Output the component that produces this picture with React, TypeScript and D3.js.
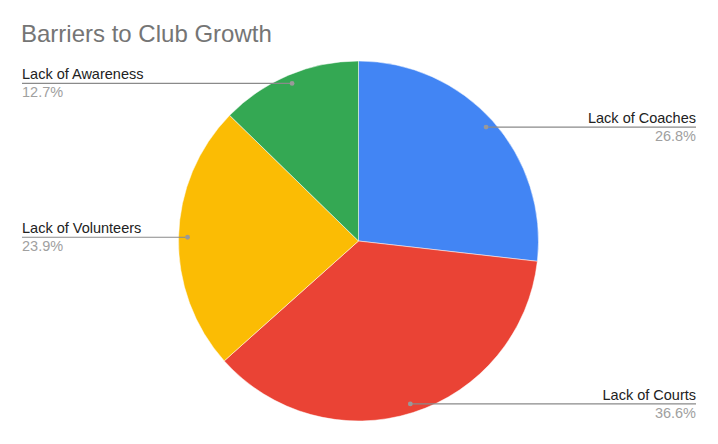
import React from "react";
import * as d3 from "d3";

const categories = ["Lack of Coaches", "Lack of Courts", "Lack of Volunteers", "Lack of Awareness"];
const values = [26.8, 36.6, 23.9, 12.7];
const colors = ["#4285F4", "#EA4335", "#FBBC04", "#34A853"];
const title = "Barriers to Club Growth";

const W = 718;
const H = 444;
const cx = 358.5;
const cy = 241;
const R = 180;

export default function App() {
  const pie = d3.pie<number>().sort(null).value((d) => d)(values);
  const arc = d3.arc<d3.PieArcDatum<number>>().innerRadius(0).outerRadius(R);
  const total = d3.sum(values);
  const fmt = (v: number) => ((v / total) * 100).toFixed(1) + "%";
  const font = "'Liberation Sans', Arial, sans-serif";

  return (
    <svg width={W} height={H} style={{ position: "absolute", left: 0, top: 0, background: "#fff" }} fontFamily={font}>
      <rect width={W} height={H} fill="#fff" />
      <text x={21} y={42} fontSize={24} fill="#757575">{title}</text>
      <g transform={`translate(${cx},${cy})`}>
        {pie.map((p, i) => (
          <path key={i} d={arc(p) || ""} fill={colors[i]} stroke="#fff" strokeWidth={0.5} />
        ))}
      </g>
      {pie.map((p, i) => {
        const mid = (p.startAngle + p.endAngle) / 2;
        const dx = cx + Math.sin(mid) * R * 0.95;
        const dy = cy - Math.cos(mid) * R * 0.95;
        const right = Math.sin(mid) > 0;
        const ex = right ? 696 : 22;
        const anchor = right ? "end" : "start";
        return (
          <g key={"l" + i}>
            <line x1={dx} y1={dy} x2={ex} y2={dy} stroke="#8a8a8a" strokeWidth={1.2} />
            <circle cx={dx} cy={dy} r={2.4} fill="#999" />
            <text x={ex} y={dy - 4} fontSize={14.5} fill="#222" textAnchor={anchor}>{categories[i]}</text>
            <text x={ex} y={dy + 14} fontSize={14.5} fill="#a0a0a0" textAnchor={anchor}>{fmt(values[i])}</text>
          </g>
        );
      })}
    </svg>
  );
}
